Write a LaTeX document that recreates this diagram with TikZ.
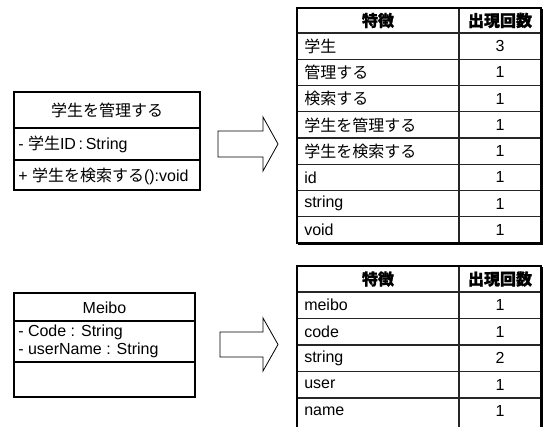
\documentclass[tikz,border=0pt]{standalone}
\usepackage{fontspec}
\setmainfont{Liberation Sans}
\newfontfamily\jp{Noto Sans CJK JP}
\newfontfamily\jph{Noto Sans CJK JP}[BoldFeatures={FakeBold=1.2}]
\newcommand\J[1]{{\jp #1}}
\begin{document}
\begin{tikzpicture}[x=0.75pt,y=-0.75pt,
  txt/.style={font=\fontsize{12}{14}\selectfont, inner sep=0pt},
  lft/.style={txt, anchor=west},
  ctr/.style={txt, anchor=center},
  hdr/.style={font=\fontsize{12}{14}\selectfont\jph\bfseries, inner sep=0pt, anchor=center},
  boxline/.style={draw=black, line width=0.8pt},
  gridline/.style={draw=black!85, line width=0.8pt},
  shadowline/.style={draw=black, line width=1.6pt},
  blockarrow/.style={draw=black, line width=0.6pt, fill=white}
]
\useasboundingbox (0,0) rectangle (548,426);

% ---------- class 1 ----------
\draw[boxline] (14,92) rectangle (200,190);
\draw[boxline] (14,128) -- (200,128);
\draw[boxline] (14,160) -- (200,160);
\node[ctr] (c1name) at (107,110) {\J{学生を管理する}};
\node[lft] (c1attr) at (18,144) {- \J{学生}ID\,:\,String};
\node[lft] (c1op) at (18,176) {+ \J{学生を検索する}():void};

% ---------- arrow 1 ----------
\draw[blockarrow] (218,131) -- (263,131) -- (263,117) -- (278,144) -- (263,171) -- (263,157) -- (218,157) -- cycle;

% ---------- table 1 ----------
\foreach \y in {33,59.25,85.5,111.75,138,164.25,190.5,216.75}
  \draw[gridline] (297,\y) -- (541,\y);
\draw[gridline] (459,8) -- (459,243);
\draw[boxline] (297,8) rectangle (541,243);
\draw[shadowline] (541.5,9) -- (541.5,243.5) -- (298,243.5);
\node[hdr] (t1h1) at (378,20.5) {特徴};
\node[hdr] (t1h2) at (500,20.5) {出現回数};
\node[lft] (t1r1) at (304,46.1) {\J{学生}};
\node[lft] (t1r2) at (304,72.4) {\J{管理する}};
\node[lft] (t1r3) at (304,98.6) {\J{検索する}};
\node[lft] (t1r4) at (304,124.9) {\J{学生を管理する}};
\node[lft] (t1r5) at (304,151.1) {\J{学生を検索する}};
\node[lft] (t1r6) at (304,177.4) {id};
\node[lft] (t1r7) at (304,203.6) {string};
\node[lft] (t1r8) at (304,229.9) {void};
\node[ctr] (t1n1) at (500,46.1) {3};
\node[ctr] (t1n2) at (500,72.4) {1};
\node[ctr] (t1n3) at (500,98.6) {1};
\node[ctr] (t1n4) at (500,124.9) {1};
\node[ctr] (t1n5) at (500,151.1) {1};
\node[ctr] (t1n6) at (500,177.4) {1};
\node[ctr] (t1n7) at (500,203.6) {1};
\node[ctr] (t1n8) at (500,229.9) {1};

% ---------- class 2 ----------
\draw[boxline] (14,293) rectangle (195,397);
\draw[boxline] (14,321) -- (195,321);
\draw[boxline] (14,362) -- (195,362);
\node[ctr] (c2name) at (104.5,307.5) {Meibo};
\node[lft] (c2a1) at (18,332) {- Code : String};
\node[lft] (c2a2) at (18,350) {- userName : String};

% ---------- arrow 2 ----------
\draw[blockarrow] (220,332) -- (263,332) -- (263,318) -- (278,344.5) -- (263,371) -- (263,357) -- (220,357) -- cycle;

% ---------- table 2 ----------
\foreach \y in {292,318.5,345,371.5,398}
  \draw[gridline] (297,\y) -- (541,\y);
\draw[gridline] (459,266) -- (459,427);
\draw[boxline] (297,427) -- (297,266) -- (541,266) -- (541,427);
\draw[shadowline] (541.5,267) -- (541.5,427);
\node[hdr] (t2h1) at (378,279) {特徴};
\node[hdr] (t2h2) at (500,279) {出現回数};
\node[lft] (t2r1) at (304,305.2) {meibo};
\node[lft] (t2r2) at (304,331.7) {code};
\node[lft] (t2r3) at (304,358.2) {string};
\node[lft] (t2r4) at (304,384.7) {user};
\node[lft] (t2r5) at (304,411.2) {name};
\node[ctr] (t2n1) at (500,305.2) {1};
\node[ctr] (t2n2) at (500,331.7) {1};
\node[ctr] (t2n3) at (500,358.2) {2};
\node[ctr] (t2n4) at (500,384.7) {1};
\node[ctr] (t2n5) at (500,411.2) {1};
\end{tikzpicture}
\end{document}
